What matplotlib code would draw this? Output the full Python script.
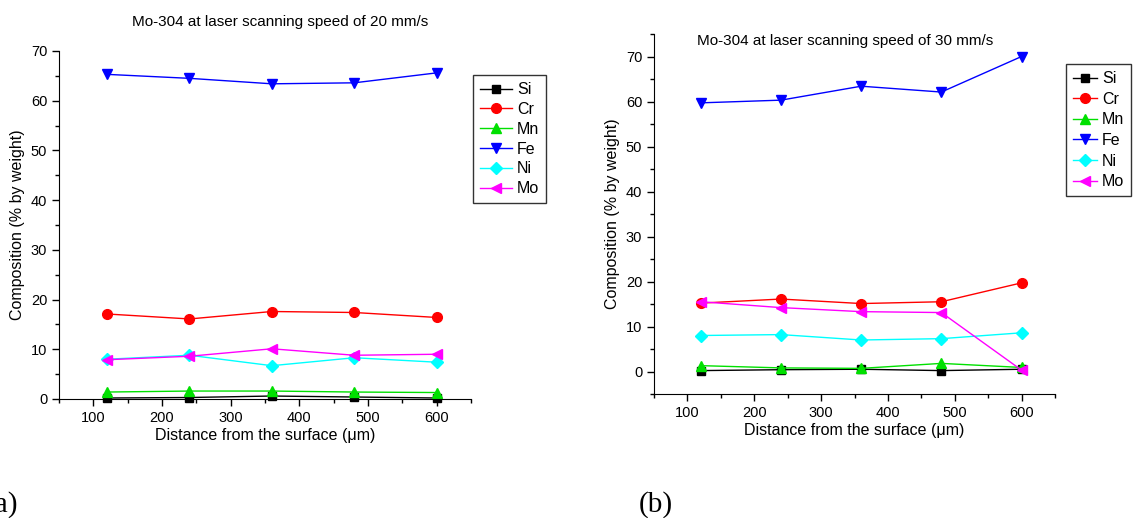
import matplotlib.pyplot as plt
from matplotlib.ticker import MultipleLocator

plt.rcParams['font.family'] = ['Liberation Sans', 'DejaVu Sans']

# Distance from the surface (um)
distance = [120, 240, 360, 480, 600]
elements = ['Si', 'Cr', 'Mn', 'Fe', 'Ni', 'Mo']

# laser scanning speed 20 mm/s
si_20 = [0.2, 0.3, 0.6, 0.4, 0.2]
cr_20 = [17.1, 16.1, 17.6, 17.4, 16.4]
mn_20 = [1.4, 1.6, 1.6, 1.4, 1.3]
fe_20 = [65.3, 64.5, 63.4, 63.6, 65.6]
ni_20 = [8.0, 8.8, 6.7, 8.3, 7.4]
mo_20 = [7.9, 8.6, 10.1, 8.8, 9.0]

# laser scanning speed 30 mm/s
si_30 = [0.2, 0.4, 0.5, 0.2, 0.5]
cr_30 = [15.2, 16.1, 15.1, 15.5, 19.7]
mn_30 = [1.3, 0.8, 0.7, 1.8, 0.9]
fe_30 = [59.7, 60.3, 63.4, 62.1, 70.0]
ni_30 = [8.0, 8.2, 7.0, 7.3, 8.6]
mo_30 = [15.5, 14.2, 13.3, 13.1, 0.3]

colors = ['black', 'red', '#00e000', 'blue', 'cyan', 'magenta']
markers = ['s', 'o', '^', 'v', 'D', '<']
msizes = [6, 7, 7, 7, 6, 7]

fig = plt.figure(figsize=(11.37, 5.18), dpi=100)
W, H = 1137, 518


def make_axes(left, top, right, bottom):
    return fig.add_axes([left / W, 1 - bottom / H, (right - left) / W, (bottom - top) / H])


def style(ax, ylim):
    ax.set_xlim(50, 650)
    ax.set_ylim(*ylim)
    ax.spines['top'].set_visible(False)
    ax.spines['right'].set_visible(False)
    ax.xaxis.set_major_locator(MultipleLocator(100))
    ax.xaxis.set_minor_locator(MultipleLocator(50))
    ax.yaxis.set_major_locator(MultipleLocator(10))
    ax.yaxis.set_minor_locator(MultipleLocator(5))
    ax.tick_params(which='major', length=5, width=1, labelsize=10.5, direction='out')
    ax.tick_params(which='minor', length=3, width=1, direction='out')
    ax.set_xticks([100, 200, 300, 400, 500, 600])
    ax.set_xlabel('Distance from the surface (\u03bcm)', fontsize=11.5, labelpad=2)
    ax.set_ylabel('Composition (% by weight)', fontsize=11.5, labelpad=4)


def draw(ax, series):
    for name, vals, c, m, s in zip(elements, series, colors, markers, msizes):
        ax.plot(distance, vals, color=c, marker=m, markersize=s, linewidth=1,
                label=name, clip_on=False)


def add_legend(ax, x0, y0, spacing, hlen):
    leg = ax.legend(loc='upper left', bbox_to_anchor=(x0, y0),
                    frameon=True, fancybox=False, edgecolor='black', fontsize=11.5,
                    handlelength=hlen, handletextpad=0.3, labelspacing=spacing,
                    borderpad=0.45, borderaxespad=0)
    leg.get_frame().set_linewidth(1)
    return leg


ax1 = make_axes(59, 51, 471, 399)
draw(ax1, [si_20, cr_20, mn_20, fe_20, ni_20, mo_20])
style(ax1, (0, 70))
ax1.set_yticks(range(0, 71, 10))
fig.text(280 / W, 1 - 22 / H, 'Mo-304 at laser scanning speed of 20 mm/s',
         ha='center', va='center', fontsize=11)
add_legend(ax1, (473 - 59) / 412, (399 - 75) / 348, 0.3, 2.0)

ax2 = make_axes(654, 34, 1055, 394)
draw(ax2, [si_30, cr_30, mn_30, fe_30, ni_30, mo_30])
style(ax2, (-5, 75))
ax2.set_yticks(range(0, 71, 10))
fig.text(845 / W, 1 - 41 / H, 'Mo-304 at laser scanning speed of 30 mm/s',
         ha='center', va='center', fontsize=11)
add_legend(ax2, (1066 - 654) / 401, (394 - 64) / 360, 0.35, 1.5)

fig.text(-14 / W, 1 - 505 / H, '(a)', family='Liberation Serif', fontsize=21,
         ha='left', va='center')
fig.text(639 / W, 1 - 505 / H, '(b)', family='Liberation Serif', fontsize=21,
         ha='left', va='center')

fig.savefig('out.png', dpi=100)
